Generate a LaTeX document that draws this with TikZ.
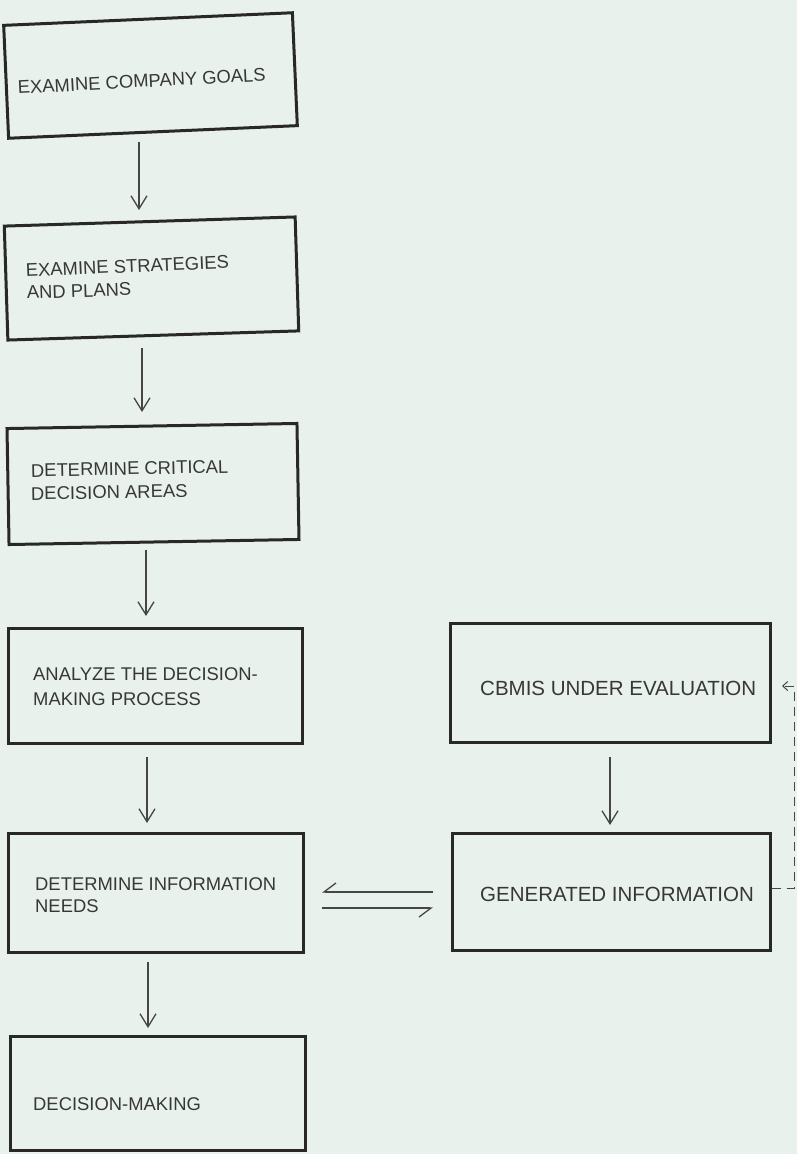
\documentclass[tikz,border=0pt]{standalone}
\usepackage{fontspec}
\setmainfont{Liberation Sans}
\usetikzlibrary{arrows.meta}
\definecolor{bg}{RGB}{232,241,235}
\definecolor{boxc}{RGB}{40,40,40}
\definecolor{txtc}{RGB}{55,55,55}
\definecolor{linec}{RGB}{70,70,70}
\begin{document}
\begin{tikzpicture}[x=1pt,y=-1pt,
  box/.style={draw=boxc,line width=3pt,rectangle,inner sep=0pt},
  flow/.style={draw=linec,line width=1.3pt,-{Straight Barb[length=13pt,width=16pt]}},
  harp/.style={draw=linec,line width=1.3pt,-{Straight Barb[harpoon,swap,length=12pt,width=18pt]}},
  fb/.style={draw=linec,line width=1pt,dash pattern=on 9pt off 6pt,-{Straight Barb[length=5pt,width=9pt]}},
  lbl/.style={anchor=base west,inner sep=0pt,text=txtc,font=\fontsize{18.4}{23}\selectfont},
  lblr/.style={lbl,font=\fontsize{20.5}{24}\selectfont}]
\fill[bg] (0,0) rectangle (797,1154);
\useasboundingbox (0,0) rectangle (797,1154);

% boxes
\node[box,minimum width=289pt,minimum height=113pt,rotate=2.5] (b1) at (150.5,75.5) {};
\node[box,minimum width=291pt,minimum height=114pt,rotate=1.8] (b2) at (151.5,278.5) {};
\node[box,minimum width=290pt,minimum height=116pt,rotate=1] (b3) at (153,484) {};
\node[box,minimum width=294pt,minimum height=115pt] (b4) at (155,685.5) {};
\node[box,minimum width=295pt,minimum height=119pt] (b5) at (155.5,892.5) {};
\node[box,minimum width=295pt,minimum height=114pt] (b6) at (157.5,1093) {};
\node[box,minimum width=320pt,minimum height=119pt] (b7) at (610,682.5) {};
\node[box,minimum width=318pt,minimum height=117pt] (b8) at (611,891.5) {};

% labels
\node[lbl,rotate=3] (t1) at (18,94) {EXAMINE COMPANY GOALS};
\node[lbl,rotate=2.5] (t2a) at (26,277) {EXAMINE STRATEGIES};
\node[lbl,rotate=2] (t2b) at (27,299) {AND PLANS};
\node[lbl,rotate=1.2] (t3a) at (31,477) {DETERMINE CRITICAL};
\node[lbl,rotate=1] (t3b) at (31,500) {DECISION AREAS};
\node[lbl] (t4a) at (33,680) {ANALYZE THE DECISION-};
\node[lbl] (t4b) at (33,705) {MAKING PROCESS};
\node[lbl] (t5a) at (35,890) {DETERMINE INFORMATION};
\node[lbl] (t5b) at (35,912) {NEEDS};
\node[lbl] (t6) at (33,1110) {DECISION-MAKING};
\node[lblr] (t7) at (480,695) {CBMIS UNDER EVALUATION};
\node[lblr] (t8) at (480,901) {GENERATED INFORMATION};

% x positions of arrows
\coordinate (x1) at (139,0);
\coordinate (x2) at (142,0);
\coordinate (x3) at (146,0);
\coordinate (x4) at (147,0);
\coordinate (x5) at (148,0);
\coordinate (x6) at (610,0);
\coordinate (y1) at (0,892);
\coordinate (y2) at (0,908);
\coordinate (dc) at (794,888);
\coordinate (dt) at (794,686);

\draw[flow,shorten <=8.5pt,shorten >=10pt] (b1.south -| x1) -- (b2.north -| x1);
\draw[flow,shorten <=11pt,shorten >=12.5pt] (b2.south -| x2) -- (b3.north -| x2);
\draw[flow,shorten <=6.5pt,shorten >=10.5pt] (b3.south -| x3) -- (b4.north -| x3);
\draw[flow,shorten <=12.5pt,shorten >=8.5pt] (b4.south -| x4) -- (b5.north -| x4);
\draw[flow,shorten <=8.5pt,shorten >=6.5pt] (b5.south -| x5) -- (b6.north -| x5);
\draw[flow,shorten <=13.5pt,shorten >=6.5pt] (b7.south -| x6) -- (b8.north -| x6);

\draw[harp,shorten <=17.5pt,shorten >=17.5pt] (b8.west |- y1) -- (b5.east |- y1);
\draw[harp,shorten <=17.5pt,shorten >=17.5pt] (b5.east |- y2) -- (b8.west |- y2);

\draw[fb,shorten >=10.5pt] (b8.east |- dc) -- (dc) -- (dt) -- (b7.east |- dt);
\end{tikzpicture}
\end{document}
